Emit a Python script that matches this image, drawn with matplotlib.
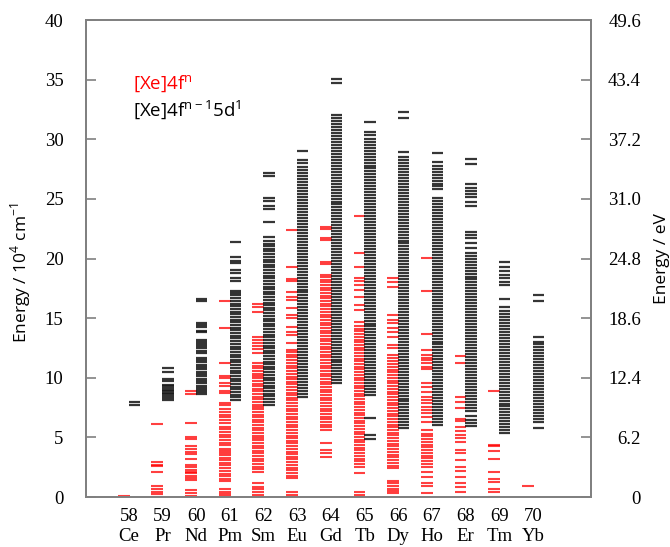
import matplotlib
matplotlib.use("Agg")
import matplotlib.pyplot as plt

# atomic numbers and symbols
z_numbers = [58, 59, 60, 61, 62, 63, 64, 65, 66, 67, 68, 69, 70]
elements = ["Ce", "Pr", "Nd", "Pm", "Sm", "Eu", "Gd", "Tb", "Dy", "Ho", "Er", "Tm", "Yb"]

# [Xe]4f^n levels, 10^4 cm^-1
ce_4f = [0.12]
pr_4f = [0.0, 0.25, 0.45, 0.65, 0.95, 2.12, 2.62, 2.72, 2.9, 6.15]
nd_4f = [0.0, 0.12, 0.31, 0.6, 1.43, 1.6, 1.79, 2.0, 2.1, 2.27, 2.49, 2.68, 3.19, 3.6,
         3.8, 4.02, 4.3, 4.87, 5.06, 6.18, 8.64, 8.91]
pm_4f = [0.06, 0.25, 0.42, 0.64, 1.37, 1.54, 1.76, 1.93, 2.21, 2.43, 2.66, 2.88, 3.1,
         3.27, 3.49, 3.66, 3.83, 4.0, 4.33, 4.56, 4.78, 5.0, 5.23, 5.45, 5.67, 5.9, 6.23,
         6.46, 6.68, 6.9, 7.13, 7.35, 7.69, 7.91, 8.69, 8.91, 9.33, 9.53, 9.98, 10.15,
         11.21, 14.14, 16.44]
sm_4f = [0.0, 0.17, 0.39, 0.64, 0.87, 1.15, 2.12, 2.35, 2.55, 2.8, 3.0, 3.2, 3.45, 3.65,
         3.85, 4.1, 4.3, 4.5, 4.75, 4.95, 5.15, 5.4, 5.6, 5.8, 6.05, 6.25, 6.45, 6.7, 6.9,
         7.1, 7.35, 7.55, 7.75, 8.0, 8.2, 8.4, 8.65, 8.85, 9.05, 9.3, 9.5, 9.7, 9.95,
         10.15, 10.35, 10.6, 10.8, 11.0, 11.21, 12.05, 12.38, 12.66, 12.89, 13.17, 13.44,
         15.54, 15.9, 16.16]
eu_4f = [0.0, 0.2, 0.45, 1.56, 1.8, 2.0, 2.25, 2.45, 2.7, 2.9, 3.15, 3.35, 3.6, 3.8, 4.05,
         4.25, 4.5, 4.7, 4.95, 5.15, 5.4, 5.6, 5.85, 6.05, 6.3, 6.5, 6.75, 6.95, 7.2, 7.4,
         7.65, 7.85, 8.1, 8.3, 8.55, 8.75, 9.0, 9.2, 9.45, 9.65, 9.9, 10.1, 10.35, 10.55,
         10.8, 11.0, 11.25, 11.45, 11.7, 11.9, 12.15, 12.33, 12.89, 13.58, 13.86, 14.28,
         14.98, 15.26, 15.82, 16.52, 16.75, 17.22, 18.14, 18.31, 19.31, 22.39]
gd_4f = [3.38, 3.66, 3.94, 4.5, 5.62, 5.85, 6.08, 6.3, 6.52, 6.75, 6.98, 7.2, 7.42, 7.65,
         7.88, 8.1, 8.32, 8.55, 8.78, 9.0, 9.22, 9.45, 9.68, 9.9, 10.12, 10.35, 10.58,
         10.8, 11.02, 11.25, 11.48, 11.7, 11.92, 12.15, 12.38, 12.6, 12.82, 13.05, 13.28,
         13.5, 13.72, 13.95, 14.18, 14.4, 14.62, 14.85, 15.08, 15.3, 15.52, 15.75, 15.98,
         16.2, 16.42, 16.65, 16.88, 17.1, 17.32, 17.55, 17.78, 18.0, 18.22, 18.45, 18.62,
         19.54, 19.73, 21.55, 21.69, 22.47, 22.67]
tb_4f = [0.0, 0.2, 0.45, 1.99, 2.54, 2.77, 3.0, 3.22, 3.45, 3.68, 3.9, 4.13, 4.36, 4.58,
         4.81, 5.04, 5.26, 5.49, 5.72, 5.94, 6.17, 6.4, 6.62, 6.85, 7.08, 7.3, 7.53, 7.76,
         7.98, 8.21, 8.44, 8.66, 8.89, 9.12, 9.34, 9.57, 9.8, 10.02, 10.25, 10.48, 10.7,
         10.93, 11.16, 11.38, 11.61, 11.84, 12.06, 12.29, 12.52, 12.74, 12.97, 13.2, 13.42,
         13.65, 13.88, 14.1, 14.33, 14.7, 15.68, 16.1, 16.8, 17.36, 17.78, 18.14, 18.34,
         19.31, 20.43, 23.59]
dy_4f = [0.3, 0.5, 0.7, 0.92, 1.15, 1.37, 2.4, 2.63, 2.86, 3.09, 3.32, 3.55, 3.78, 4.01,
         4.24, 4.47, 4.7, 4.93, 5.16, 5.39, 5.62, 5.85, 6.08, 6.31, 6.54, 6.77, 7.0, 7.23,
         7.46, 7.69, 7.92, 8.15, 8.38, 8.61, 8.84, 9.07, 9.3, 9.53, 9.76, 9.99, 10.22,
         10.45, 10.68, 10.91, 11.14, 11.37, 11.63, 11.91, 12.47, 12.75, 13.44, 13.86, 14.14,
         14.56, 14.84, 15.26, 17.64, 18.06, 18.34]
ho_4f = [0.31, 0.92, 1.15, 1.7, 2.12, 2.54, 2.77, 3.0, 3.24, 3.47, 3.7, 3.93, 4.16, 4.39,
         4.62, 4.85, 5.08, 5.31, 5.62, 6.31, 6.73, 7.02, 7.3, 7.57, 7.86, 8.13, 8.41, 8.83,
         9.25, 9.53, 10.71, 10.93, 11.21, 11.49, 11.68, 11.91, 12.33, 13.67, 17.3, 20.07]
er_4f = [0.45, 0.87, 1.15, 1.7, 2.21, 2.54, 3.1, 3.72, 3.94, 4.64, 4.92, 5.2, 5.56, 5.9,
         6.37, 6.51, 7.46, 7.94, 8.41, 11.21, 11.82]
tm_4f = [0.0, 0.45, 0.64, 1.28, 1.48, 2.12, 3.19, 3.88, 4.3, 4.4, 8.89]
yb_4f = [0.92]

# [Xe]4f^(n-1)5d^1 levels, 10^4 cm^-1
ce_5d = [7.69, 8.0]
pr_5d = [8.1, 8.33, 8.5, 8.62, 8.75, 8.9, 9.0, 9.12, 9.3, 9.42, 9.7, 9.92, 10.5, 10.82]
nd_5d = [8.61, 8.78, 8.94, 9.14, 9.33, 9.53, 9.73, 9.92, 10.12, 10.31, 10.51, 10.71, 10.9,
         11.09, 11.29, 11.49, 11.66, 12.1, 12.27, 12.47, 12.66, 12.83, 13.0, 13.17, 13.85,
         13.92, 14.23, 14.4, 14.59, 16.44, 16.63]
pm_5d = [8.13, 8.35, 8.58, 8.8, 9.02, 9.25, 9.48, 9.7, 9.92, 10.15, 10.38, 10.6, 10.82,
         11.05, 11.28, 11.5, 11.72, 11.95, 12.18, 12.4, 12.62, 12.85, 13.08, 13.3, 13.52,
         13.75, 13.98, 14.2, 14.42, 14.65, 14.88, 15.1, 15.32, 15.55, 15.78, 16.0, 16.22,
         16.45, 16.68, 16.9, 17.12, 17.3, 18.11, 18.34, 18.81, 19.04, 19.65, 19.75, 20.15,
         21.38]
sm_5d = [7.71, 7.99, 8.2, 8.45, 8.65, 8.9, 9.1, 9.35, 9.55, 9.8, 10.0, 10.25, 10.45, 10.7,
         10.9, 11.15, 11.35, 11.6, 11.8, 12.05, 12.25, 12.5, 12.7, 12.95, 13.15, 13.4, 13.6,
         13.85, 14.05, 14.3, 14.5, 14.75, 14.95, 15.2, 15.4, 15.65, 15.85, 16.1, 16.3,
         16.55, 16.75, 17.0, 17.2, 17.45, 17.65, 17.9, 18.1, 18.35, 18.55, 18.8, 19.0,
         19.25, 19.45, 19.7, 19.9, 20.15, 20.35, 20.6, 20.8, 21.05, 21.25, 21.5, 21.83,
         23.09, 24.13, 24.43, 24.85, 25.05, 26.92, 27.2]
eu_5d = [8.41, 8.65, 8.9, 9.15, 9.4, 9.65, 9.9, 10.15, 10.4, 10.65, 10.9, 11.15, 11.4,
         11.65, 11.9, 12.15, 12.4, 12.65, 12.9, 13.15, 13.4, 13.65, 13.9, 14.15, 14.4,
         14.65, 14.9, 15.15, 15.4, 15.65, 15.9, 16.15, 16.4, 16.65, 16.9, 17.15, 17.4,
         17.65, 17.9, 18.15, 18.4, 18.65, 18.9, 19.15, 19.4, 19.65, 19.9, 20.15, 20.4,
         20.65, 20.9, 21.15, 21.4, 21.65, 21.9, 22.15, 22.4, 22.65, 22.9, 23.15, 23.4,
         23.65, 23.9, 24.15, 24.4, 24.65, 24.9, 25.15, 25.4, 25.65, 25.9, 26.15, 26.4,
         26.65, 26.9, 27.15, 27.4, 27.65, 27.98, 28.26, 29.04]
gd_5d = [9.53, 9.78, 10.03, 10.28, 10.53, 10.78, 11.03, 11.28, 11.53, 11.78, 12.03, 12.28,
         12.53, 12.78, 13.03, 13.28, 13.53, 13.78, 14.03, 14.28, 14.53, 14.78, 15.03, 15.28,
         15.53, 15.78, 16.03, 16.28, 16.53, 16.78, 17.03, 17.28, 17.53, 17.78, 18.03, 18.28,
         18.53, 18.78, 19.03, 19.28, 19.53, 19.78, 20.03, 20.28, 20.53, 20.78, 21.03, 21.28,
         21.53, 21.78, 22.03, 22.28, 22.53, 22.78, 23.03, 23.28, 23.53, 23.78, 24.03, 24.28,
         24.53, 24.78, 25.03, 25.28, 25.53, 25.78, 26.03, 26.28, 26.53, 26.78, 27.03, 27.28,
         27.53, 27.78, 28.03, 28.28, 28.53, 28.78, 29.03, 29.28, 29.53, 29.78, 30.03, 30.28,
         30.53, 30.78, 31.03, 31.28, 31.53, 31.78, 32.03, 34.69, 35.02]
tb_5d = [4.84, 5.2, 6.6, 8.55, 8.8, 9.05, 9.3, 9.55, 9.8, 10.05, 10.3, 10.55, 10.8, 11.05,
         11.3, 11.55, 11.8, 12.05, 12.3, 12.55, 12.8, 13.05, 13.3, 13.55, 13.8, 14.05, 14.3,
         14.55, 14.8, 15.05, 15.3, 15.55, 15.8, 16.05, 16.3, 16.55, 16.8, 17.05, 17.3,
         17.55, 17.8, 18.05, 18.3, 18.55, 18.8, 19.05, 19.3, 19.55, 19.8, 20.05, 20.3,
         20.55, 20.8, 21.05, 21.3, 21.55, 21.8, 22.05, 22.3, 22.55, 22.8, 23.05, 23.3,
         23.55, 23.8, 24.05, 24.3, 24.55, 24.8, 25.05, 25.3, 25.55, 25.8, 26.05, 26.3,
         26.55, 26.8, 27.05, 27.3, 27.55, 27.8, 28.05, 28.3, 28.55, 28.8, 29.05, 29.3,
         29.55, 29.8, 30.05, 30.36, 30.64, 31.42]
dy_5d = [5.76, 6.01, 6.26, 6.51, 6.76, 7.01, 7.26, 7.51, 7.76, 8.01, 8.26, 8.51, 8.76,
         9.01, 9.26, 9.51, 9.76, 10.01, 10.26, 10.51, 10.76, 11.01, 11.26, 11.51, 11.76,
         12.01, 12.26, 12.51, 12.76, 13.01, 13.26, 13.51, 13.76, 14.01, 14.26, 14.51, 14.76,
         15.01, 15.26, 15.51, 15.76, 16.01, 16.26, 16.51, 16.76, 17.01, 17.26, 17.51, 17.76,
         18.01, 18.26, 18.51, 18.76, 19.01, 19.26, 19.51, 19.76, 20.01, 20.26, 20.51, 20.76,
         21.01, 21.26, 21.51, 21.76, 22.01, 22.26, 22.51, 22.76, 23.01, 23.26, 23.51, 23.76,
         24.01, 24.26, 24.51, 24.76, 25.01, 25.26, 25.51, 25.76, 26.01, 26.26, 26.51, 26.76,
         27.01, 27.26, 27.51, 27.76, 28.01, 28.26, 28.51, 28.97, 31.81, 32.26]
ho_5d = [6.04, 6.29, 6.54, 6.79, 7.04, 7.29, 7.54, 7.79, 8.04, 8.29, 8.54, 8.79, 9.04,
         9.29, 9.54, 9.79, 10.04, 10.29, 10.54, 10.79, 11.04, 11.29, 11.54, 11.79, 12.04,
         12.29, 12.54, 12.79, 13.04, 13.29, 13.54, 13.79, 14.04, 14.29, 14.54, 14.79, 15.04,
         15.29, 15.54, 15.79, 16.04, 16.29, 16.54, 16.79, 17.04, 17.29, 17.54, 17.79, 18.04,
         18.29, 18.54, 18.79, 19.04, 19.29, 19.54, 19.79, 20.04, 20.29, 20.54, 20.79, 21.04,
         21.29, 21.54, 21.79, 22.04, 22.29, 22.54, 22.79, 23.04, 23.29, 23.54, 23.79, 24.04,
         24.29, 24.54, 24.79, 25.04, 25.79, 26.04, 26.29, 26.54, 26.79, 27.04, 27.29, 27.54,
         27.79, 28.12, 28.87]
er_5d = [5.95, 6.18, 6.46, 6.79, 7.24, 7.49, 7.74, 7.99, 8.24, 8.49, 8.74, 8.99, 9.24,
         9.49, 9.74, 9.99, 10.24, 10.49, 10.74, 10.99, 11.24, 11.49, 11.74, 11.99, 12.24,
         12.49, 12.74, 12.99, 13.24, 13.49, 13.74, 13.99, 14.24, 14.49, 14.74, 14.99, 15.24,
         15.49, 15.74, 15.99, 16.24, 16.49, 16.74, 16.99, 17.24, 17.49, 17.74, 17.99, 18.24,
         18.49, 18.74, 18.99, 19.24, 19.49, 19.74, 19.99, 20.24, 20.49, 20.85, 21.33, 21.69,
         21.97, 22.25, 24.43, 24.76, 25.18, 25.41, 25.66, 25.89, 26.22, 27.92, 28.37]
tm_5d = [5.34, 5.59, 5.84, 6.09, 6.34, 6.59, 6.84, 7.09, 7.34, 7.59, 7.84, 8.09, 8.34,
         8.59, 8.84, 9.09, 9.34, 9.59, 9.84, 10.09, 10.34, 10.59, 10.84, 11.09, 11.34,
         11.59, 11.84, 12.09, 12.34, 12.59, 12.84, 13.09, 13.34, 13.59, 13.84, 14.09, 14.34,
         14.59, 14.84, 15.09, 15.34, 15.59, 15.96, 16.58, 17.78, 18.06, 18.34, 18.62, 18.98,
         19.31, 19.73]
yb_5d = [5.76, 6.31, 6.55, 6.8, 7.05, 7.3, 7.55, 7.8, 8.05, 8.3, 8.55, 8.8, 9.05, 9.3,
         9.55, 9.8, 10.05, 10.3, 10.55, 10.8, 11.05, 11.3, 11.55, 11.8, 12.05, 12.3, 12.55,
         12.8, 13.03, 13.44, 16.46, 16.94]

levels_4f = [ce_4f, pr_4f, nd_4f, pm_4f, sm_4f, eu_4f, gd_4f, tb_4f, dy_4f, ho_4f, er_4f, tm_4f, yb_4f]
levels_5d = [ce_5d, pr_5d, nd_5d, pm_5d, sm_5d, eu_5d, gd_5d, tb_5d, dy_5d, ho_5d, er_5d, tm_5d, yb_5d]

right_ticks = [0, 6.2, 12.4, 18.6, 24.8, 31.0, 37.2, 43.4, 49.6]

serif = "Liberation Serif"
sans = "Open Sans"
grey = "#808080"

fig = plt.figure(figsize=(6.7, 5.47), dpi=100)
ax = fig.add_axes([0.128, 0.0914, 0.754, 0.872])

for z, f_lv, d_lv in zip(z_numbers, levels_4f, levels_5d):
    ax.hlines(f_lv, z - 0.33, z + 0.02, colors="#ff0000", lw=1.5, alpha=0.75)
    ax.hlines(d_lv, z - 0.01, z + 0.33, colors="#1a1a1a", lw=1.6, alpha=0.88)

ax.set_xlim(56.72, 71.72)
ax.set_ylim(0, 40)
ax.set_yticks(range(0, 41, 5))
ax.set_xticks(z_numbers, labels=[f"{z}\n{el}" for z, el in zip(z_numbers, elements)])
for lab in ax.get_xticklabels() + ax.get_yticklabels():
    lab.set_fontfamily(serif)
    lab.set_fontsize(13.5)
for lab in ax.get_xticklabels():
    lab.set_linespacing(1.2)
ax.tick_params(axis="x", length=0, pad=8)
ax.tick_params(axis="y", direction="in", length=7, width=1.2, color=grey, pad=16, right=False)
for sp in ax.spines.values():
    sp.set_color(grey)
    sp.set_linewidth(1.3)

ax.set_ylabel("Energy / 10$^\\mathregular{4}$ cm$^\\mathregular{-1}$", fontfamily=sans, fontsize=12.5)
ax.yaxis.set_label_coords(-0.104, 0.47)

ax2 = ax.twinx()
ax2.set_ylim(0, 49.6)
ax2.set_yticks(right_ticks, labels=["0" if t == 0 else f"{t:.1f}" for t in right_ticks])
for lab in ax2.get_yticklabels():
    lab.set_fontfamily(serif)
    lab.set_fontsize(13.5)
    lab.set_horizontalalignment("right")
ax2.tick_params(axis="y", direction="in", length=7, width=1.2, color=grey, pad=36)
for sp in ax2.spines.values():
    sp.set_color(grey)
    sp.set_linewidth(1.3)
ax2.set_ylabel("Energy / eV", fontfamily=sans, fontsize=12.5)
ax2.yaxis.set_label_coords(1.125, 0.5)

ax.text(0.093, 0.866, "[Xe]4f$^\\mathregular{n}$", transform=ax.transAxes, color="#ff0000",
        fontfamily=sans, fontsize=13.5, va="center")
ax.text(0.093, 0.811, "[Xe]4f$^\\mathregular{n-1}$5d$^\\mathregular{1}$", transform=ax.transAxes,
        color="black", fontfamily=sans, fontsize=13.5, va="center")

fig.savefig("out.png", dpi=100)
